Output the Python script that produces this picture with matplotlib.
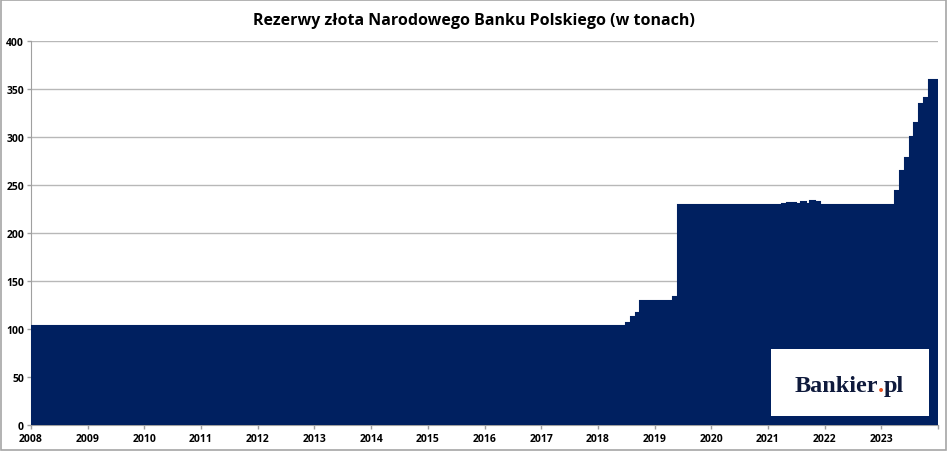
import matplotlib
matplotlib.use("Agg")
import matplotlib.pyplot as plt
import numpy as np
from matplotlib.patches import Rectangle

# Monthly gold reserves of NBP (tonnes), Jan 2008 - Dec 2023
r2008 = [102.9, 102.9, 102.9, 102.9, 102.9, 102.9, 102.9, 102.9, 102.9, 102.9, 102.9, 102.9]
r2009 = [102.9, 102.9, 102.9, 102.9, 102.9, 102.9, 102.9, 102.9, 102.9, 102.9, 102.9, 102.9]
r2010 = [102.9, 102.9, 102.9, 102.9, 102.9, 102.9, 102.9, 102.9, 102.9, 102.9, 102.9, 102.9]
r2011 = [102.9, 102.9, 102.9, 102.9, 102.9, 102.9, 102.9, 102.9, 102.9, 102.9, 102.9, 102.9]
r2012 = [102.9, 102.9, 102.9, 102.9, 102.9, 102.9, 102.9, 102.9, 102.9, 102.9, 102.9, 102.9]
r2013 = [102.9, 102.9, 102.9, 102.9, 102.9, 102.9, 102.9, 102.9, 102.9, 102.9, 102.9, 102.9]
r2014 = [102.9, 102.9, 102.9, 102.9, 102.9, 102.9, 102.9, 102.9, 102.9, 102.9, 102.9, 102.9]
r2015 = [102.9, 102.9, 102.9, 102.9, 102.9, 102.9, 102.9, 102.9, 102.9, 102.9, 102.9, 102.9]
r2016 = [102.9, 102.9, 102.9, 102.9, 102.9, 102.9, 102.9, 102.9, 102.9, 102.9, 102.9, 102.9]
r2017 = [102.9, 102.9, 102.9, 102.9, 102.9, 102.9, 102.9, 102.9, 102.9, 102.9, 102.9, 102.9]
r2018 = [102.9, 102.9, 102.9, 102.9, 102.9, 102.9, 105.5, 112.5, 116.5, 128.6, 128.6, 128.6]
r2019 = [128.6, 128.6, 128.6, 128.6, 133.5, 228.7, 228.7, 228.7, 228.7, 228.7, 228.7, 228.7]
r2020 = [228.7, 228.7, 228.7, 228.7, 228.7, 228.7, 228.7, 228.7, 228.7, 228.7, 228.7, 228.7]
r2021 = [228.7, 228.7, 228.7, 230.3, 231.0, 231.2, 229.6, 232.0, 229.6, 232.8, 232.3, 228.7]
r2022 = [228.7, 228.7, 228.7, 228.7, 228.7, 228.7, 228.7, 228.7, 228.7, 228.7, 228.7, 228.7]
r2023 = [228.7, 228.7, 228.7, 243.5, 264.0, 278.0, 299.5, 314.5, 334.0, 340.0, 358.7, 358.7]

years = list(range(2008, 2024))
values = np.array(r2008 + r2009 + r2010 + r2011 + r2012 + r2013 + r2014 + r2015 +
                  r2016 + r2017 + r2018 + r2019 + r2020 + r2021 + r2022 + r2023)
year_labels = [str(y) for y in years]

navy = "#002060"
grid_gray = "#B8B8B8"

fig = plt.figure(figsize=(9.48, 4.52), dpi=100)
fig.patch.set_facecolor("white")
fig.patches.append(Rectangle((0.001, 0.002), 0.997, 0.996, transform=fig.transFigure,
                             fill=False, edgecolor="#A6A6A6", linewidth=1.2))

ax = fig.add_axes([31/948, 1 - 425.7/452, (938-31)/948, (425.7-41.7)/452])
edges = np.arange(len(values) + 1)
ax.stairs(values, edges, fill=True, color=navy, zorder=3)
ax.stairs(values, edges, fill=False, color=navy, linewidth=1.5, zorder=3)

ax.set_xlim(0, len(values))
ax.set_ylim(0, 400)
ax.set_yticks(np.arange(0, 401, 50))
ax.set_xticks(np.arange(0, len(values) + 1, 12))
ax.set_xticklabels(year_labels + [""])
ax.yaxis.grid(True, color=grid_gray, linewidth=1, zorder=0)
ax.set_axisbelow(True)
for s in ["top", "right"]:
    ax.spines[s].set_visible(False)
ax.spines["left"].set_color("#A0A0A0")
ax.spines["bottom"].set_color("#A0A0A0")
ax.tick_params(axis="both", colors="#A0A0A0", length=3, width=1, labelcolor="black", labelsize=7.5)
for lab in ax.get_xticklabels() + ax.get_yticklabels():
    lab.set_fontweight("bold")
    lab.set_family(["Open Sans", "DejaVu Sans"])
ax.tick_params(axis="x", pad=3)
ax.tick_params(axis="y", pad=2)

fig.text(0.5, 1 - 25/452, "Rezerwy złota Narodowego Banku Polskiego (w tonach)",
         ha="center", va="baseline", fontsize=11.5, fontweight="bold",
         family=["Open Sans", "DejaVu Sans"], color="black")

# Logo box
fig.patches.append(Rectangle((771/948, 1 - 417/452), (929-771)/948, (417-350)/452,
                             transform=fig.transFigure, facecolor="white",
                             edgecolor="none", zorder=5))
fig.canvas.draw()
renderer = fig.canvas.get_renderer()
logo_y = 1 - 392/452
fs = 17.5
fam = ["Liberation Serif", "DejaVu Serif"]
t1 = fig.text(795/948, logo_y, "Bankier", ha="left", va="baseline", fontsize=fs,
              fontweight="bold", family=fam, color="#0F1A3C", zorder=6)
bb = t1.get_window_extent(renderer)
x2 = (bb.x1 - 0.5) / fig.bbox.width
t2 = fig.text(x2, logo_y, ".", ha="left", va="baseline", fontsize=fs,
              fontweight="bold", family=fam, color="#E8501E", zorder=6)
bb2 = t2.get_window_extent(renderer)
x3 = (bb2.x1 - 0.5) / fig.bbox.width
fig.text(x3, logo_y, "pl", ha="left", va="baseline", fontsize=fs,
         fontweight="bold", family=fam, color="#0F1A3C", zorder=6)

fig.savefig("out.png", dpi=100)
